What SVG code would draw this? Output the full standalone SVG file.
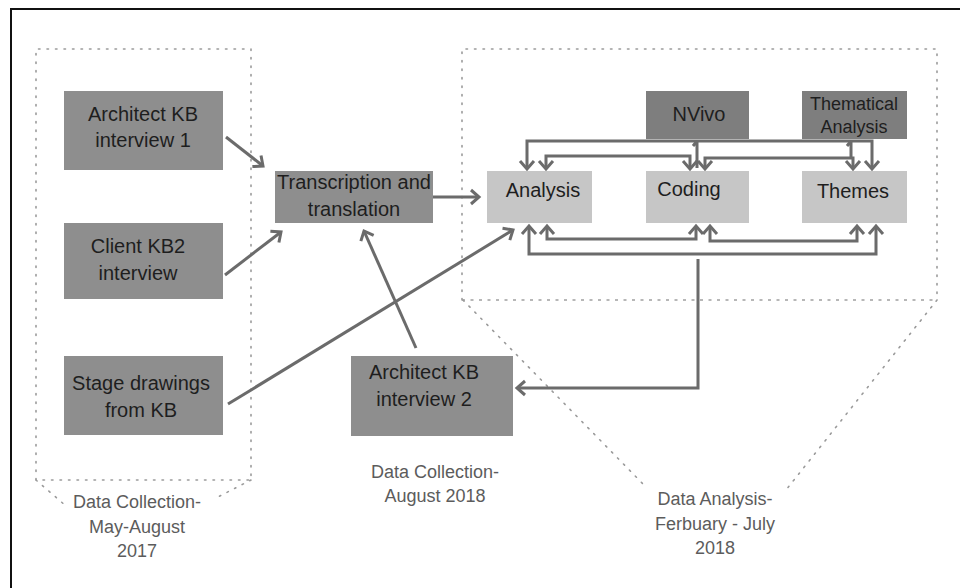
<svg xmlns="http://www.w3.org/2000/svg" width="960" height="588" viewBox="0 0 960 588">
<defs>
<style>
.dark{fill:#8e8e8e}
.darker{fill:#7e7e7e}
.light{fill:#c6c6c6}
.lbl{font-family:"Liberation Sans",Arial,sans-serif;font-size:20px;fill:#1e1e1e;text-anchor:middle}
.sm{font-size:18px}
.phase{font-family:"Liberation Sans",Arial,sans-serif;font-size:18px;fill:#5c5c5c;text-anchor:middle}
.dot{fill:none;stroke:#9a9a9a;stroke-width:1.6;stroke-dasharray:1.5 7;stroke-linecap:round}
.dash{fill:none;stroke:#a0a0a0;stroke-width:1.6;stroke-dasharray:3 5.5}
.con{fill:none;stroke:#6b6b6b;stroke-width:3}
.arr{marker-end:url(#ah)}
.arr2{marker-start:url(#ah);marker-end:url(#ah)}
</style>
<marker id="ah" markerUnits="userSpaceOnUse" markerWidth="20" markerHeight="20" viewBox="-10 -10 20 20" refX="0" refY="0" orient="auto-start-reverse">
<path d="M-8,-7 L0,0 L-8,7" fill="none" stroke="#6b6b6b" stroke-width="3"/>
</marker>
</defs>
<rect width="960" height="588" fill="#ffffff"/>
<path d="M11,588 V9 H960" fill="none" stroke="#111" stroke-width="2"/>

<g id="phase-frames">
<path class="dot" d="M36,480 V49 H251 V480 Z"/>
<path class="dot" d="M36,480 L66,506 M251,480 L216,498"/>
<path class="dot" d="M462,300 V49 H937 V300"/>
<path class="dash" d="M462,300 H937"/>
<path class="dot" d="M463,300 L644,485 M937,300 L786,490"/>
</g>

<g id="phase-labels">
<text class="phase" x="137" y="508">Data Collection-</text>
<text class="phase" x="137" y="533">May-August</text>
<text class="phase" x="137" y="557">2017</text>
<text class="phase" x="435" y="478">Data Collection-</text>
<text class="phase" x="435" y="502">August 2018</text>
<text class="phase" x="715" y="505">Data Analysis-</text>
<text class="phase" x="715" y="530">Ferbuary - July</text>
<text class="phase" x="715" y="554">2018</text>
</g>

<g id="connectors">
<path class="con arr" d="M226,137 L263,166"/>
<path class="con arr" d="M225,275 L281,232"/>
<path class="con arr" d="M433,197 H479"/>
<path class="con arr" d="M228,404 L513,230"/>
<path class="con arr" d="M416,348 L364,231"/>
<path class="con arr2" d="M527,169 V141 H872 V169"/>
<path class="con" d="M697,168 V141 M693,146 L697,141 M851,141 V158 M847,146 L851,141"/>
<path class="con arr2" d="M546,169 V156 H690 V169"/>
<path class="con arr2" d="M705,169 V158 H853 V169"/>
<path class="con arr2" d="M547,226 V239 H696 V226"/>
<path class="con arr2" d="M710,226 V241 H857 V226"/>
<path class="con arr2" d="M529,226 V254 H876 V226"/>
<path class="con arr" d="M698,259 V388 H517"/>
</g>

<g id="architect-kb-interview-1">
<rect class="dark" x="64" y="91" width="159" height="79"/>
<text class="lbl" x="143" y="121">Architect KB</text>
<text class="lbl" x="143" y="147">interview 1</text>
</g>
<g id="client-kb2-interview">
<rect class="dark" x="64" y="223" width="159" height="76"/>
<text class="lbl" x="138" y="253">Client KB2</text>
<text class="lbl" x="138" y="280">interview</text>
</g>
<g id="stage-drawings">
<rect class="dark" x="64" y="356" width="159" height="79"/>
<text class="lbl" x="141" y="390">Stage drawings</text>
<text class="lbl" x="141" y="417">from KB</text>
</g>
<g id="transcription">
<rect class="dark" x="275" y="171" width="158" height="52"/>
<text class="lbl" x="354" y="189">Transcription and</text>
<text class="lbl" x="354" y="216">translation</text>
</g>
<g id="architect-kb-interview-2">
<rect class="dark" x="351" y="356" width="162" height="80"/>
<text class="lbl" x="424" y="379">Architect KB</text>
<text class="lbl" x="424" y="406">interview 2</text>
</g>
<g id="nvivo">
<rect class="darker" x="646" y="91" width="103" height="48"/>
<text class="lbl" x="699" y="121">NVivo</text>
</g>
<g id="thematical-analysis">
<rect class="darker" x="802" y="91" width="105" height="48"/>
<text class="lbl sm" x="854" y="110">Thematical</text>
<text class="lbl sm" x="854" y="133">Analysis</text>
</g>
<g id="analysis">
<rect class="light" x="487" y="171" width="105" height="52"/>
<text class="lbl" x="543" y="197">Analysis</text>
</g>
<g id="coding">
<rect class="light" x="646" y="171" width="103" height="52"/>
<text class="lbl" x="689" y="196">Coding</text>
</g>
<g id="themes">
<rect class="light" x="802" y="171" width="105" height="52"/>
<text class="lbl" x="853" y="198">Themes</text>
</g>
</svg>
